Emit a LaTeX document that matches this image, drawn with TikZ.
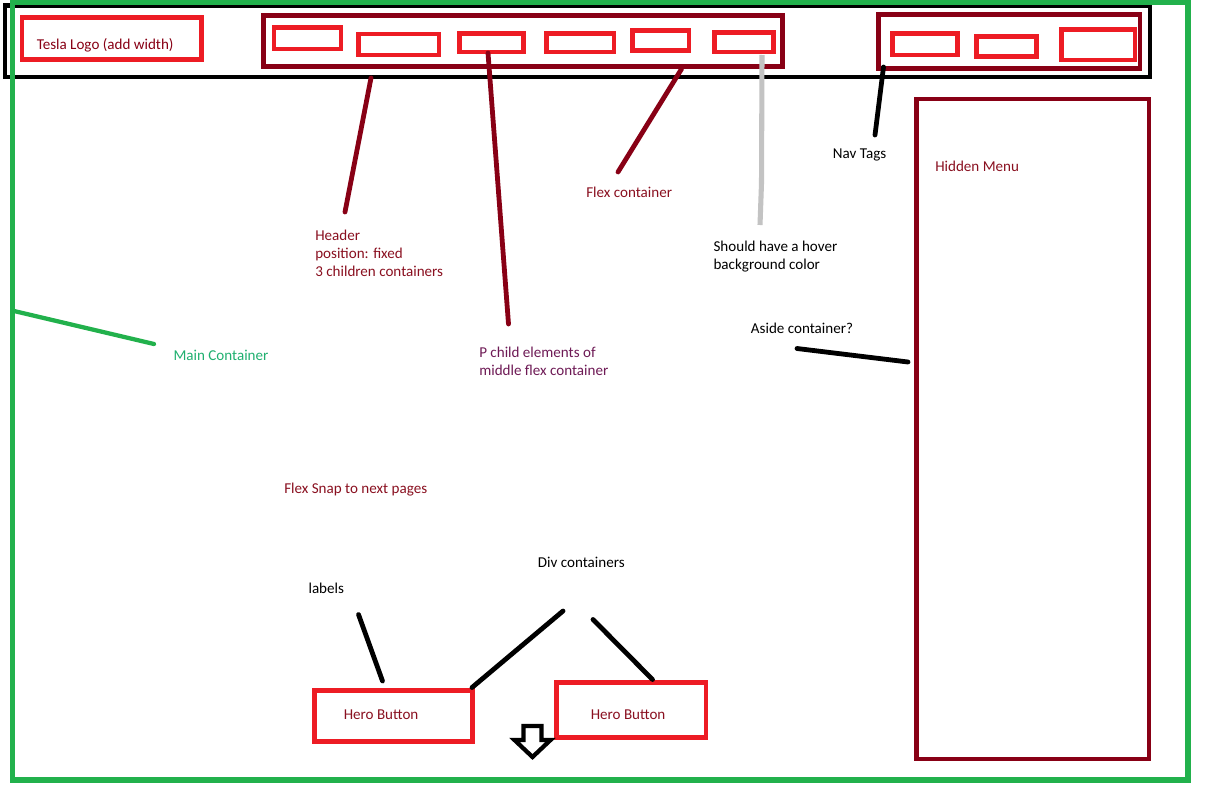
\documentclass[tikz,border=0pt]{standalone}
\usepackage{fontspec}
\setmainfont{Carlito}
\usetikzlibrary{fit}
\definecolor{pgreen}{HTML}{22B14C}
\definecolor{pdark}{HTML}{880015}
\definecolor{pred}{HTML}{ED1C24}
\definecolor{pgray}{HTML}{C3C3C3}
\definecolor{tdark}{HTML}{8A1020}
\definecolor{tpurple}{HTML}{6E1A55}
\definecolor{tgreen}{HTML}{20B070}
\tikzset{
  redbox/.style={draw=pred, line width=3.4pt, inner sep=0pt},
  darkbox/.style={draw=pdark, line width=3.6pt, inner sep=0pt},
  lbl/.style={anchor=west, inner sep=0pt, align=left, font=\fontsize{11.3}{13.5}\selectfont},
  dlbl/.style={lbl, text=tdark},
  conn/.style={line width=3.6pt, line cap=round},
}
\begin{document}
\begin{tikzpicture}[x=0.75pt,y=-0.75pt]
\useasboundingbox (0,0) rectangle (1205,785);
\fill[white] (0,0) rectangle (1205,785);
% header bar
\node[draw=black, line width=3.2pt, inner sep=0pt, fit={(5,5.5)(1150,77)}] (header) {};
% main container
\node[draw=pgreen, line width=3.8pt, inner sep=0pt, fit={(12.5,2.5)(1188,780)}] (main) {};
% logo
\node[redbox, fit={(22,17.5)(201.5,59.5)}] (logo) {};
\node[dlbl, text=pdark] (logot) at (36.5,45) {Tesla Logo (add width)};
% middle flex container
\node[darkbox, fit={(263.5,15.5)(782.5,66.5)}] (flex) {};
\node[redbox, fit={(274,27.5)(341,49)}] (p1) {};
\node[redbox, fit={(358.5,34)(439,55)}] (p2) {};
\node[redbox, fit={(459.5,33.5)(523.5,52)}] (p3) {};
\node[redbox, fit={(546.5,33.5)(614,52)}] (p4) {};
\node[redbox, fit={(632.5,30.5)(689,50.5)}] (p5) {};
\node[redbox, fit={(714.5,32.5)(773.5,52)}] (p6) {};
% nav container
\node[darkbox, fit={(878.5,14.5)(1140,68.5)}] (nav) {};
\node[redbox, fit={(892.5,33.5)(957.5,55)}] (n1) {};
\node[redbox, fit={(976.5,36.5)(1036.5,56.5)}] (n2) {};
\node[redbox, fit={(1061.5,29.5)(1135,60)}] (n3) {};
% hidden menu
\node[darkbox, fit={(916.5,99)(1149,759)}] (menu) {};
\node[dlbl] (menut) at (935,166) {Hidden Menu};
% hero buttons
\node[redbox, fit={(314.5,690.5)(472.5,741.5)}] (hero1) {};
\node[dlbl] (hero1t) at (343.5,714.5) {Hero Button};
\node[redbox, fit={(556.5,682.5)(706,737.5)}] (hero2) {};
\node[dlbl] (hero2t) at (590.5,714.5) {Hero Button};
% labels
\node[dlbl] (headert) at (315,253.7) {Header\\position: fixed\\3 children containers};
\node[lbl, text=tpurple] (pchild) at (479,361.7) {P child elements of\\middle flex container};
\node[dlbl] (flext) at (586,192.7) {Flex container};
\node[lbl] (hover) at (713.3,256.7) {Should have a hover\\background color};
\node[lbl] (navt) at (832.7,155) {Nav Tags};
\node[lbl] (aside) at (750.7,328.3) {Aside container?};
\node[lbl, text=tgreen] (maint) at (173.3,355.7) {Main Container};
\node[dlbl] (snap) at (284,490) {Flex Snap to next pages};
\node[lbl] (divt) at (537.7,562.7) {Div containers};
\node[lbl] (labt) at (308.3,588.3) {labels};
% connector end points
\coordinate (hA) at (371,78); \coordinate (hB) at (345,212);
\coordinate (pA) at (488,53); \coordinate (pB) at (508.5,324);
\coordinate (fA) at (681.5,69); \coordinate (fB) at (618,172);
\coordinate (gA) at (762,55); \coordinate (gM) at (761.5,183); \coordinate (gB) at (760,225);
\coordinate (nA) at (883.5,67); \coordinate (nB) at (875,135);
\coordinate (mA) at (14,311); \coordinate (mB) at (154,344);
\coordinate (aA) at (797,348.5); \coordinate (aB) at (908,362);
\coordinate (lA) at (358.5,614.5); \coordinate (lB) at (382.5,681);
\coordinate (dA) at (563,611); \coordinate (dB) at (472,687.5);
\coordinate (eA) at (593,619.5); \coordinate (eB) at (652.5,679.5);
% connectors
\draw[conn, draw=pdark] (hA) -- (hB);
\draw[conn, draw=pdark] (pA) -- (pB);
\draw[conn, draw=pdark] (fA) -- (fB);
\draw[conn, draw=pgray, line width=3.8pt, line cap=butt] (gA) -- (gM) -- (gB);
\draw[conn, draw=black] (nA) -- (nB);
\draw[conn, draw=pgreen, line width=3.2pt] (mA) -- (mB);
\draw[conn, draw=black] (aA) -- (aB);
\draw[conn, draw=black] (lA) -- (lB);
\draw[conn, draw=black] (dA) -- (dB);
\draw[conn, draw=black] (eA) -- (eB);
% down arrow
\draw[line width=3.2pt, line join=miter] (523.5,726) -- (541.5,726) -- (541.5,740) -- (550.5,740) -- (532.5,757) -- (514.5,740) -- (523.5,740) -- cycle;
\end{tikzpicture}
\end{document}
